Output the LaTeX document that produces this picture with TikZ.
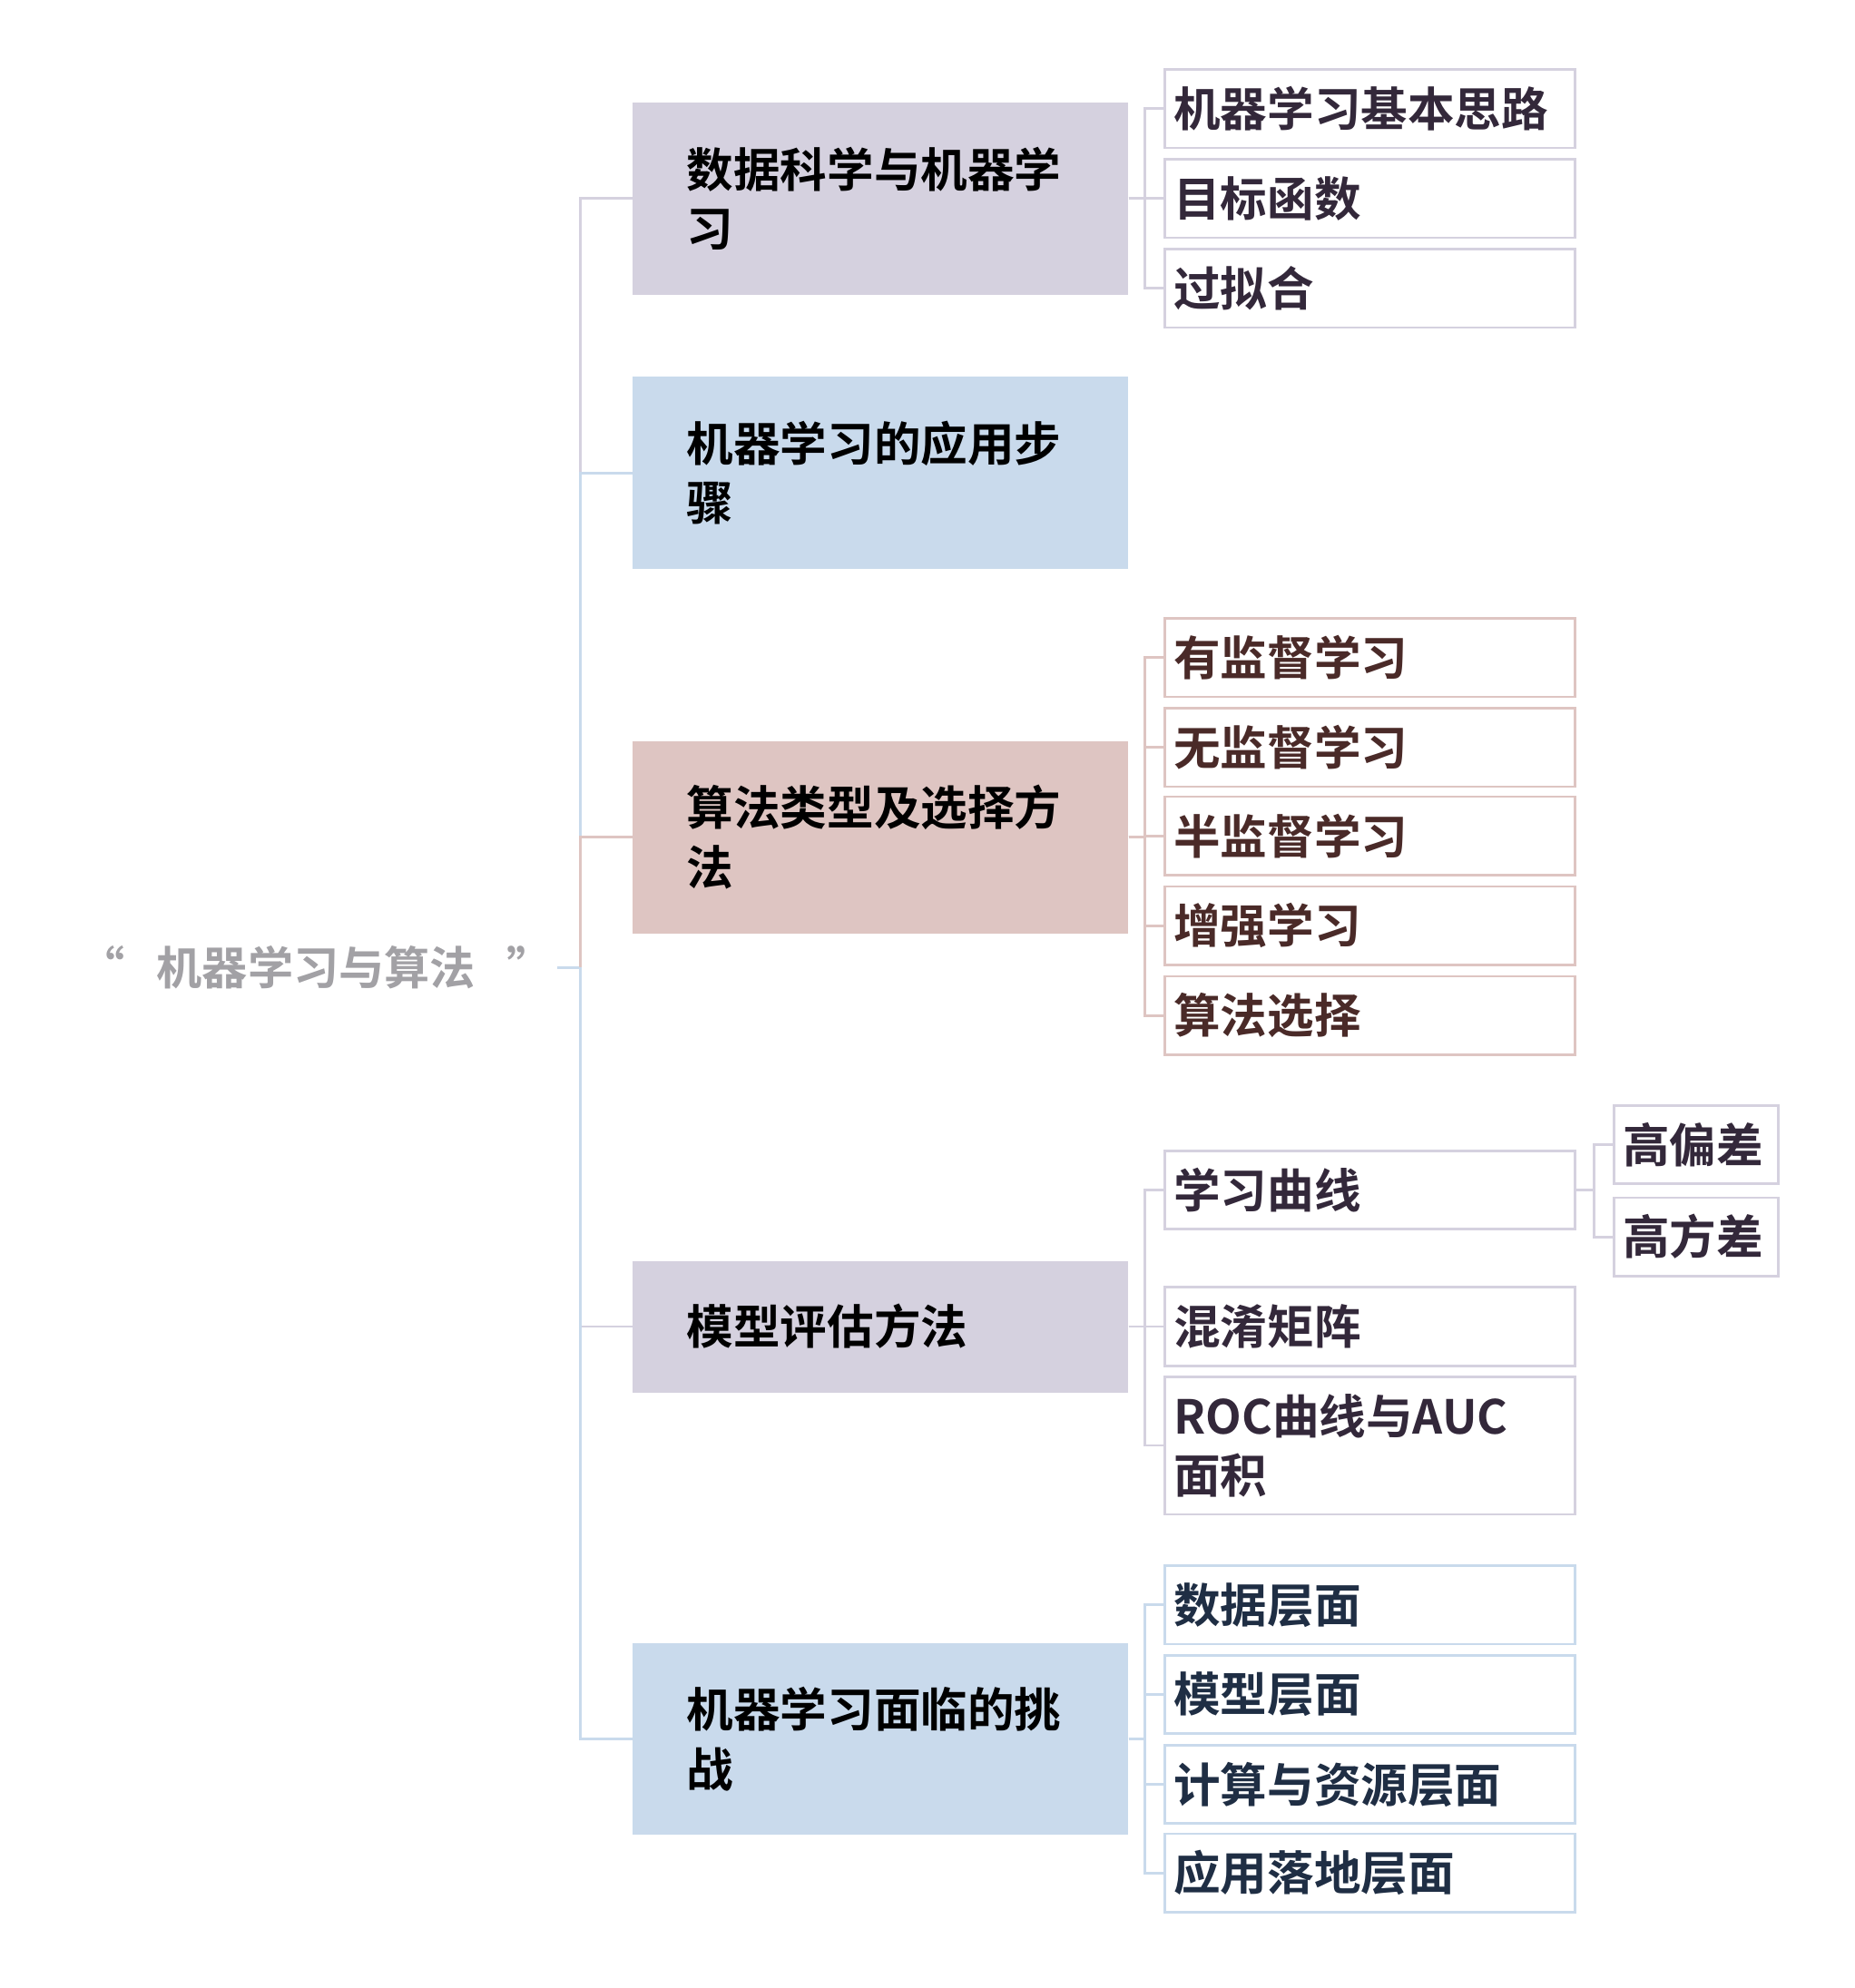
\documentclass[tikz,border=0pt]{standalone}
\usepackage{fontspec}
\setmainfont{Noto Sans CJK SC}[BoldFont={Noto Sans CJK SC Bold}]
\begin{document}
\begin{tikzpicture}[x=1pt,y=-1pt,
  cA/.style={},
  lone/.style={rectangle,minimum width=392pt,text width=306pt,inner xsep=43pt,align=left,font=\fontsize{37}{47}\selectfont\bfseries,text=black},
  ltwo/.style={rectangle,draw,line width=2pt,fill=white,minimum width=324pt,text width=310pt,inner xsep=7pt,align=left,font=\fontsize{37}{47}\selectfont\bfseries},
  con/.style={line width=2pt}]
\definecolor{pu}{HTML}{D5D1DF}\definecolor{bl}{HTML}{C9DAEC}\definecolor{pk}{HTML}{DEC5C2}
\definecolor{tpu}{HTML}{33283A}\definecolor{tpk}{HTML}{4A2A28}\definecolor{tbl}{HTML}{1F2E44}
\useasboundingbox (0,0) rectangle (1466,1572);
\node[font=\fontsize{36}{40}\selectfont\bfseries,text=pu!40!gray!90!black!85] (root) at (250,765) {“\hspace{25pt}机器学习与算法\hspace{25pt}”};
\coordinate (t) at (459,765);
% level 1
\node[lone,fill=pu,minimum height=152pt] (a) at (696,157) {数据科学与机器学\\习};
\node[lone,fill=bl,minimum height=152pt] (b) at (696,374) {机器学习的应用步\\骤};
\node[lone,fill=pk,minimum height=152pt] (c) at (696,662) {算法类型及选择方\\法};
\node[lone,fill=pu,minimum height=104pt] (d) at (696,1049) {模型评估方法};
\node[lone,fill=bl,minimum height=152pt] (e) at (696,1375) {机器学习面临的挑\\战};
\draw[con,bl] (root.east) -- (t);
\foreach \n/\c in {a/pu,b/bl,c/pk,d/pu,e/bl} \draw[con,\c] (t) |- (\n.west);
% level 2
\foreach \y/\t [count=\i] in {86/机器学习基本思路,157/目标函数,228/过拟合}{
  \node[ltwo,draw=pu,text=tpu,minimum height=62pt] (a\i) at (1083,\y) {\t};
  \draw[con,pu] (a.east) -- (905,157) |- (a\i.west);}
\foreach \y/\t [count=\i] in {520/有监督学习,591/无监督学习,661/半监督学习,732/增强学习,803/算法选择}{
  \node[ltwo,draw=pk,text=tpk,minimum height=62pt] (c\i) at (1083,\y) {\t};
  \draw[con,pk] (c.east) -- (905,662) |- (c\i.west);}
\node[ltwo,draw=pu,text=tpu,minimum height=62pt] (d1) at (1083,941) {学习曲线};
\node[ltwo,draw=pu,text=tpu,minimum height=62pt] (d2) at (1083,1049) {混淆矩阵};
\node[ltwo,draw=pu,text=tpu,minimum height=109pt] (d3) at (1083,1143) {ROC曲线与AUC\\面积};
\foreach \i in {1,2,3} \draw[con,pu] (d.east) -- (905,1049) |- (d\i.west);
\foreach \y/\t [count=\i] in {1269/数据层面,1340/模型层面,1411/计算与资源层面,1481/应用落地层面}{
  \node[ltwo,draw=bl,text=tbl,minimum height=62pt] (e\i) at (1083,\y) {\t};
  \draw[con,bl] (e.east) -- (905,1375) |- (e\i.west);}
% level 3
\node[ltwo,draw=pu,text=tpu,minimum width=130pt,text width=116pt,minimum height=62pt] (f1) at (1341,905) {高偏差};
\node[ltwo,draw=pu,text=tpu,minimum width=130pt,text width=116pt,minimum height=62pt] (f2) at (1341,978) {高方差};
\foreach \i in {1,2} \draw[con,pu] (d1.east) -- (1260,941) |- (f\i.west);
\end{tikzpicture}
\end{document}
